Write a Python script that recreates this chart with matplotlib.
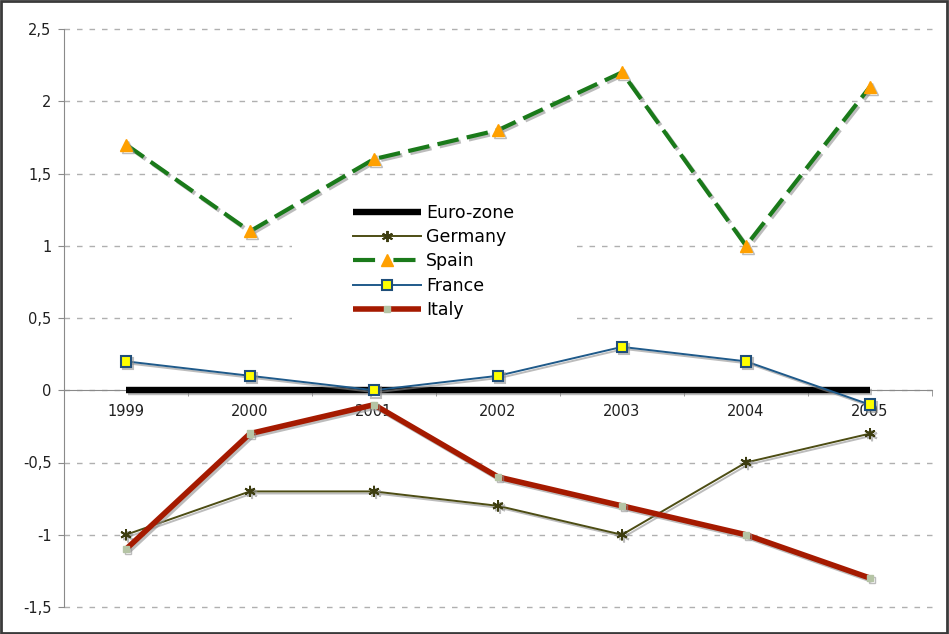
import matplotlib
matplotlib.use("Agg")
import matplotlib.pyplot as plt
import matplotlib.patheffects as pe
from matplotlib.patches import Rectangle
from matplotlib.ticker import FixedLocator, FuncFormatter

years = ["1999", "2000", "2001", "2002", "2003", "2004", "2005"]
euro_zone = [0, 0, 0, 0, 0, 0, 0]
germany = [-1.0, -0.7, -0.7, -0.8, -1.0, -0.5, -0.3]
spain = [1.7, 1.1, 1.6, 1.8, 2.2, 1.0, 2.1]
france = [0.2, 0.1, 0.0, 0.1, 0.3, 0.2, -0.1]
italy = [-1.1, -0.3, -0.1, -0.6, -0.8, -1.0, -1.3]
y_ticks = [-1.5, -1.0, -0.5, 0.0, 0.5, 1.0, 1.5, 2.0, 2.5]

W, H = 949, 634
fig = plt.figure(figsize=(W / 100, H / 100), dpi=100)
ax = fig.add_axes([64 / W, (H - 607) / H, (932 - 64) / W, (607 - 29) / H])

x = list(range(len(years)))
shadow = [pe.SimpleLineShadow(offset=(1.5, -1.5), shadow_color="#909090", alpha=0.6), pe.Normal()]

ax.plot(x, euro_zone, color="black", lw=4.6, solid_capstyle="butt", label="Euro-zone",
        path_effects=shadow, zorder=3)
ax.plot(x, germany, color="#4d4d14", lw=1.4, marker=(6, 2, 0), ms=8, mew=1.4,
        mec="#3d3d10", label="Germany", path_effects=shadow, zorder=4)
ax.plot(x, spain, color="#1a7a1a", lw=3.0, dashes=(5.2, 2.0), marker="^", ms=8.5,
        mfc="#ffa000", mec="#ffa000", label="Spain", path_effects=shadow, zorder=4)
ax.plot(x, france, color="#1f5a8a", lw=1.4, marker="s", ms=7.5, mfc="#ffff00",
        mec="#1f4e79", mew=1.5, label="France", path_effects=shadow, zorder=5)
ax.plot(x, italy, color="#a51a00", lw=4.0, solid_capstyle="butt", marker="s", ms=4.5,
        mfc="#b5c4a5", mec="#b5c4a5", label="Italy", path_effects=shadow, zorder=6)

ax.set_xlim(-0.5, len(years) - 0.5)
ax.set_ylim(-1.5, 2.5)

ax.yaxis.set_major_locator(FixedLocator(y_ticks))
ax.yaxis.set_major_formatter(FuncFormatter(lambda v, p: ("%g" % v).replace(".", ",")))
ax.set_xticks(x)
ax.set_xticklabels(years)
ax.set_xticks([i + 0.5 for i in range(-1, len(years))], minor=True)

ax.grid(axis="y", color="#b0b0b0", lw=1.0, linestyle=(0, (4, 5)))
for gl in ax.yaxis.get_gridlines():
    gl.set_clip_on(False)
ax.set_axisbelow(True)

for s in ["top", "right"]:
    ax.spines[s].set_visible(False)
ax.spines["left"].set_color("#8a8a8a")
ax.spines["bottom"].set_color("#8a8a8a")
ax.spines["bottom"].set_position(("data", 0))
ax.spines["bottom"].set_zorder(2)

ax.tick_params(axis="y", length=4, color="#8a8a8a", labelsize=10.5, pad=5, labelcolor="#202020")
ax.tick_params(axis="x", which="major", length=0, labelsize=10.5, pad=10, labelcolor="#202020")
ax.tick_params(axis="x", which="minor", length=4, color="#8a8a8a", direction="out")

# white legend background
ax.add_patch(Rectangle((292 / W, 1 - 332 / H), (575 - 292) / W, (332 - 198) / H,
                       transform=fig.transFigure, facecolor="white", edgecolor="none",
                       zorder=1.5))

leg = fig.legend(loc="upper left", bbox_to_anchor=(353 / W, 1 - 204 / H), frameon=False,
                 fontsize=12.5, handlelength=3.9, handletextpad=0.3, labelspacing=0.36,
                 borderpad=0, borderaxespad=0)
for h in leg.legend_handles:
    h.set_path_effects([])
leg.legend_handles[2].set_dashes((5.3, 4.4))

# figure border
fig.add_artist(Rectangle((0.001, 0.002), 0.997, 0.996, transform=fig.transFigure,
                         fill=False, edgecolor="#3a3a3a", lw=2))

fig.savefig("out.png", dpi=100)
